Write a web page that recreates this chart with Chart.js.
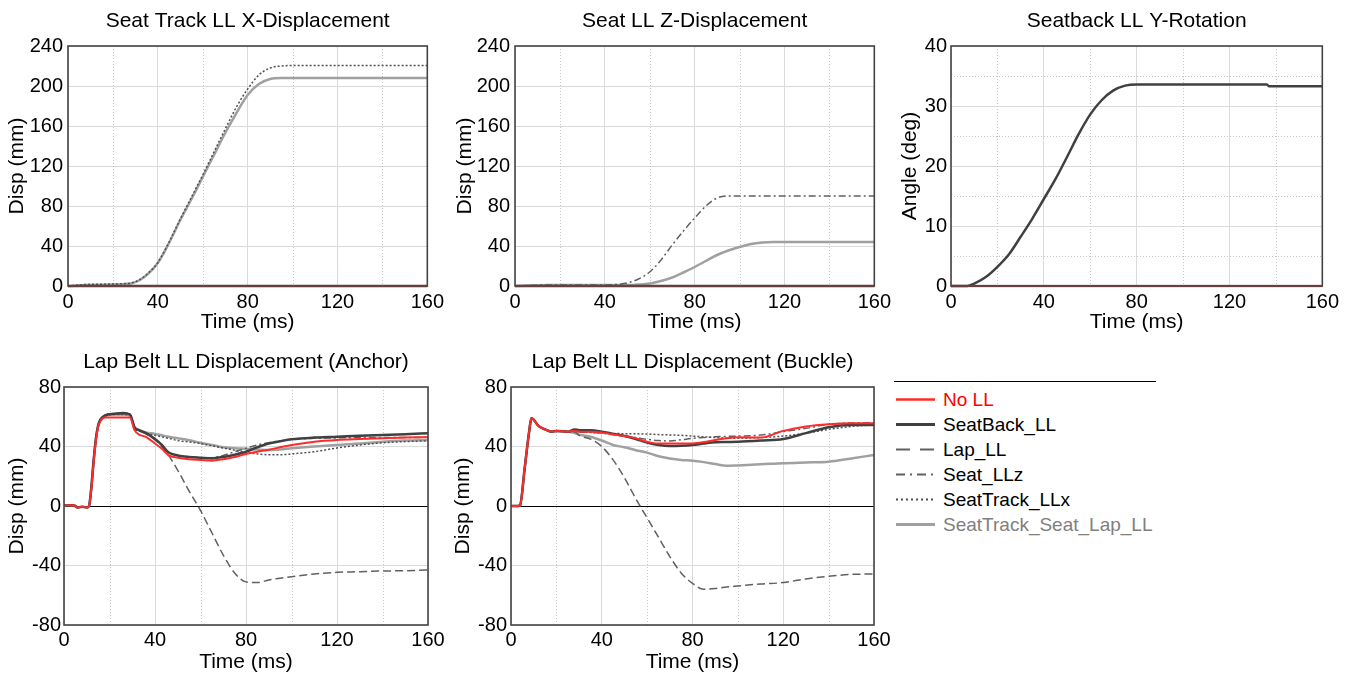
<!DOCTYPE html>
<html>
<head>
<meta charset="utf-8">
<script src="https://cdn.jsdelivr.net/npm/chart.js@4.4.0/dist/chart.umd.min.js"></script>
<style>
  body { margin: 0; background: #fff; width: 1359px; height: 675px; overflow: hidden; position: relative;
         font-family: "Liberation Sans", Arial, sans-serif; }
  canvas { position: absolute; }
  #legend { position: absolute; left: 894px; top: 381px; width: 262px; height: 160px; border-top: 1px solid #000; }
  .row { position: absolute; left: 0; height: 25px; width: 262px; }
  .row svg { position: absolute; left: 2px; top: 0; }
  .row span { position: absolute; left: 49px; top: 0; line-height: 25px; font-size: 19px; white-space: nowrap; }
</style>
</head>
<body>
<canvas id="trackX"></canvas>
<canvas id="seatZ"></canvas>
<canvas id="backRot"></canvas>
<canvas id="lapAnchor"></canvas>
<canvas id="lapBuckle"></canvas>
<div id="legend"></div>

<script>
// series names, same in every panel
const seriesNames = ["No LL", "SeatBack_LL", "Lap_LL", "Seat_LLz", "SeatTrack_LLx", "SeatTrack_Seat_Lap_LL"];

// curves that stay at zero in a panel
const zeroTimes = [0, 160];
const zeroValues = [0, 0];

// Seat Track LL X-Displacement (mm)
const trackTimes = [0, 8, 20, 28, 32, 36, 40, 45, 50, 55, 60, 65, 70, 75, 80, 85, 90, 95, 100, 160];
const trackLLx = [0, 1.5, 2, 3, 6.5, 13.5, 23.5, 44, 67, 89, 111, 134, 157, 179, 197, 211, 218, 220, 220.5, 220.5];
const trackAll = [0, 1, 1.5, 2.5, 6, 13, 23, 43, 66, 87, 109, 131, 153, 173, 191, 202, 207, 208, 208, 208];

// Seat LL Z-Displacement (mm)
const seatTimes = [0, 15, 40, 45, 50, 55, 60, 65, 70, 75, 80, 85, 90, 95, 100, 105, 110, 115, 160];
const seatLLz = [0, 1, 1, 1.5, 3, 7, 14, 26, 41, 55, 68, 80, 88, 90, 90, 90, 90, 90, 90];
const seatAll = [0, 1, 1, 1, 1, 1.5, 2.5, 5, 8.5, 13.5, 19, 25, 31, 35.5, 39, 42, 43.5, 44, 44];

// Seatback LL Y-Rotation (deg)
const backTimes = [0, 7, 10, 15, 20, 25, 30, 35, 40, 45, 50, 55, 60, 65, 70, 75, 80, 136, 137, 160];
const backLL = [0, 0, 0.4, 1.5, 3.2, 5.3, 8.2, 11.2, 14.5, 17.8, 21.5, 25.3, 28.6, 31, 32.6, 33.4, 33.6, 33.6, 33.3, 33.3];

// Lap Belt LL Displacement (Anchor) (mm)
const anchorTimes = [0, 3, 5, 6, 8, 10, 11, 12, 13, 14, 15, 16, 18, 22, 26, 29, 31, 33, 36, 40, 43, 46, 50, 55, 60,
  65, 70, 75, 80, 85, 90, 95, 100, 110, 120, 130, 140, 150, 160];
const anchorNoLL = [0.5, 0.5, 0, -1, -0.5, -1, 0, 11, 29, 44, 53, 57, 59.5, 59.5, 59.5, 59.5, 51, 48, 46.5, 42, 38.5,
  34, 32.5, 31.5, 31, 30.5, 31.5, 33, 35, 36.5, 37.8, 39.5, 41, 43.2, 44.4, 45, 45.5, 46, 46.3];
const anchorBack = [0.5, 0.5, 0, -1, -0.5, -1, 0, 12, 30, 45, 54, 58, 61, 62, 62.5, 61.5, 53, 51, 49, 45, 41,
  36, 34, 33, 32.5, 32, 33, 34.5, 36.5, 39.5, 42, 43.5, 44.8, 46, 46.6, 47.3, 47.8, 48.3, 48.9];
const anchorLap = [0.5, 0.5, 0, -1, -0.5, -1, 0, 12, 30, 45, 54, 58, 61, 62, 62, 61.5, 52, 50.5, 48.5, 44.5, 40,
  34, 24, 10, -3, -18, -33, -45, -51, -51.5, -49.7, -48.5, -47.5, -45.7, -44.6, -44.2, -43.7, -43.5, -43];
const anchorSeatZ = [0.5, 0.5, 0, -1, -0.5, -1, 0, 12, 30, 45, 54, 58, 61, 62, 62, 61.5, 53, 51, 49, 45, 41,
  36, 34, 33, 32.5, 32.5, 34, 36.5, 38.8, 41, 42.6, 43.8, 44.8, 45.5, 45.8, 46, 46, 46, 46.2];
const anchorTrackX = [0.5, 0.5, 0, -1, -0.5, -1, 0, 12, 30, 45, 54, 58, 60.5, 61.5, 61.5, 61, 52, 50.5, 49, 47.5,
  46.5, 45.5, 44, 43, 42, 40.5, 39, 37.5, 36, 35, 34.5, 34.5, 35, 36.5, 39, 41, 42.5, 43.3, 43.8];
const anchorAll = [0.5, 0.5, 0, -1, -0.5, -1, 0, 12, 30, 45, 54, 58, 60.5, 61.5, 61.5, 61, 52.5, 51, 49.5, 48.5,
  47.5, 46.5, 45.5, 44.2, 42.5, 41, 39.5, 38.8, 38.5, 38, 37.6, 38, 38.8, 40, 41, 42, 43.2, 44, 44.4];

// Lap Belt LL Displacement (Buckle) (mm)
const buckleTimes = [0, 3, 4, 6, 8, 9, 10, 12, 15, 18, 20, 25, 28, 30, 35, 40, 45, 50, 55, 60, 65, 70, 75, 80, 85,
  90, 95, 100, 110, 120, 130, 140, 150, 160];
const buckleNoLL = [0, 0, 0.5, 25, 50, 59, 58, 54, 51.5, 50, 50.5, 50, 50.5, 50, 50, 49.5, 48, 47, 45.5, 43.2, 42,
  42.1, 42, 42.1, 43, 44.4, 45.5, 46.2, 46, 50.5, 53.5, 55, 55.6, 55.6];
const buckleBack = [0, 0, 0.5, 25, 50, 59, 58, 54, 51.5, 50, 50.5, 50, 51.5, 51, 51, 50, 48.5, 47, 45, 42.6, 41,
  40.3, 40.5, 41, 42, 42.8, 43, 43.2, 44, 45, 49, 53, 54.5, 54.5];
const buckleLap = [0, 0, 0.5, 25, 50, 59, 58, 54, 51.5, 50, 50.5, 50, 50, 47.5, 45, 40, 31, 19, 5, -8, -21, -34,
  -45, -52, -56, -55.5, -54.5, -53.8, -52.4, -51.5, -49, -47.3, -46, -45.7];
const buckleSeatZ = [0, 0, 0.5, 25, 50, 59, 58, 54, 51.5, 50, 50.5, 50, 50, 49.5, 49.5, 49, 48, 47, 46, 44.8, 44,
  43.7, 44.5, 45.5, 46, 46.6, 46.8, 47, 47.7, 50, 52.2, 54.9, 55.8, 56];
const buckleTrackX = [0, 0, 0.5, 25, 50, 59, 58, 54, 51.5, 50, 50.5, 50, 50, 50, 49.5, 49, 48.8, 48.6, 48.5, 48.4,
  48, 47.8, 47.5, 47, 46.5, 46, 45.7, 45.5, 46, 47, 49, 51.5, 53.5, 54.5];
const buckleAll = [0, 0, 0.5, 25, 50, 59, 58, 54, 51.5, 50, 50.5, 50, 49, 48, 46.5, 44, 41, 39.5, 37.5, 35.9, 33.5,
  32, 31, 30.5, 29.5, 28.2, 27, 27.3, 28, 28.8, 29.3, 29.8, 32, 34.3];

// line look per series
const seriesStyles = [
  { color: "#ff2a2a", width: 2, dash: [] },
  { color: "#404040", width: 2.5, dash: [] },
  { color: "#606060", width: 1.5, dash: [8, 4] },
  { color: "#606060", width: 1.5, dash: [7, 3, 2, 3] },
  { color: "#505050", width: 1.5, dash: [2, 2] },
  { color: "#a0a0a0", width: 2.5, dash: [] },
];

Chart.defaults.font.family = '"Liberation Sans", Arial, sans-serif';
Chart.defaults.color = "#000";

// dotted minor grid under the curves, box around the plot area over them
const framePlugin = {
  id: "frame",
  beforeDatasetsDraw(chart, args, opts) {
    const { ctx, chartArea: a, scales } = chart;
    ctx.save();
    ctx.strokeStyle = "#c4c4c4";
    ctx.lineWidth = 1;
    ctx.setLineDash([1, 2]);
    (opts.xMinor || []).forEach((v) => {
      const x = Math.round(scales.x.getPixelForValue(v)) + 0.5;
      ctx.beginPath();
      ctx.moveTo(x, a.top);
      ctx.lineTo(x, a.bottom);
      ctx.stroke();
    });
    (opts.yMinor || []).forEach((v) => {
      const y = Math.round(scales.y.getPixelForValue(v)) + 0.5;
      ctx.beginPath();
      ctx.moveTo(a.left, y);
      ctx.lineTo(a.right, y);
      ctx.stroke();
    });
    ctx.restore();
  },
  afterDatasetsDraw(chart) {
    const { ctx, chartArea: a } = chart;
    ctx.save();
    ctx.strokeStyle = "#444";
    ctx.lineWidth = 1.6;
    ctx.strokeRect(a.left, a.top, a.right - a.left, a.bottom - a.top);
    ctx.restore();
  },
};

function makePanel(id, box, title, yTitle, yRange, curves, yMinor, lay) {
  const canvas = document.getElementById(id);
  canvas.width = box.w;
  canvas.height = box.h;
  canvas.style.left = box.x + "px";
  canvas.style.top = box.y + "px";

  const datasets = curves.map((c, i) => ({
    label: seriesNames[i],
    data: c.times.map((t, k) => ({ x: t, y: c.values[k] })),
    borderColor: seriesStyles[i].color,
    borderWidth: seriesStyles[i].width,
    borderDash: seriesStyles[i].dash,
    pointRadius: 0,
    cubicInterpolationMode: "monotone",
    fill: false,
    clip: false,
  }));

  return new Chart(canvas, {
    type: "line",
    data: { datasets: datasets },
    options: {
      responsive: false,
      animation: false,
      devicePixelRatio: 1,
      layout: { padding: { left: 0, right: 20, top: 0, bottom: 0 } },
      plugins: {
        legend: { display: false },
        tooltip: { enabled: false },
        title: {
          display: true,
          text: title,
          fullSize: false,
          color: "#000",
          font: { size: 21, weight: "normal", lineHeight: 1 },
          padding: { top: lay.titleTop, bottom: lay.titleBottom },
        },
        frame: { xMinor: [20, 60, 100, 140], yMinor: yMinor },
      },
      scales: {
        x: {
          type: "linear",
          min: 0,
          max: 160,
          ticks: { stepSize: 40, maxRotation: 0, padding: lay.xTickPad, font: { size: 20 } },
          grid: { color: "#dadada", drawTicks: false },
          border: { display: false },
          title: {
            display: true,
            text: "Time (ms)",
            font: { size: 21, lineHeight: 1 },
            padding: { top: 0, bottom: lay.xTitlePad },
          },
          afterFit: (s) => { s.height = lay.xH; },
        },
        y: {
          type: "linear",
          min: yRange[0],
          max: yRange[1],
          ticks: { stepSize: yRange[2], padding: lay.yTickPad, font: { size: 20 } },
          grid: {
            color: (c) => (c.tick && c.tick.value === 0 ? "#000" : "#dadada"),
            drawTicks: false,
          },
          border: { display: false },
          title: {
            display: true,
            text: yTitle,
            font: { size: 21, lineHeight: 1 },
            padding: { top: lay.yTitlePad, bottom: 0 },
          },
          afterFit: (s) => { s.width = lay.yW; },
        },
      },
    },
    plugins: [framePlugin],
  });
}

const zero = { times: zeroTimes, values: zeroValues };

makePanel("trackX", { x: 0, y: 0, w: 448, h: 340 }, "Seat Track LL X-Displacement", "Disp (mm)", [0, 240, 40],
  [zero, zero, zero, zero, { times: trackTimes, values: trackLLx }, { times: trackTimes, values: trackAll }], [],
  { titleTop: 11, titleBottom: 14, xH: 54, xTickPad: 4, xTitlePad: 7.5, yW: 68, yTickPad: 5, yTitlePad: 6.5 });

makePanel("seatZ", { x: 447, y: 0, w: 448, h: 340 }, "Seat LL Z-Displacement", "Disp (mm)", [0, 240, 40],
  [zero, zero, zero, { times: seatTimes, values: seatLLz }, zero, { times: seatTimes, values: seatAll }], [],
  { titleTop: 11, titleBottom: 14, xH: 54, xTickPad: 4, xTitlePad: 7.5, yW: 68, yTickPad: 5, yTitlePad: 7.5 });

makePanel("backRot", { x: 892, y: 0, w: 451, h: 340 }, "Seatback LL Y-Rotation", "Angle (deg)", [0, 40, 10],
  [zero, { times: backTimes, values: backLL }, zero, zero, zero, zero], [5, 15, 25, 35],
  { titleTop: 11, titleBottom: 14, xH: 54, xTickPad: 4, xTitlePad: 7.5, yW: 59, yTickPad: 4, yTitlePad: 7.5 });

makePanel("lapAnchor", { x: 0, y: 335, w: 448, h: 340 }, "Lap Belt LL Displacement (Anchor)", "Disp (mm)", [-80, 80, 40],
  [
    { times: anchorTimes, values: anchorNoLL },
    { times: anchorTimes, values: anchorBack },
    { times: anchorTimes, values: anchorLap },
    { times: anchorTimes, values: anchorSeatZ },
    { times: anchorTimes, values: anchorTrackX },
    { times: anchorTimes, values: anchorAll },
  ], [],
  { titleTop: 16.5, titleBottom: 14.5, xH: 50, xTickPad: 3, xTitlePad: 2.5, yW: 64, yTickPad: 3, yTitlePad: 6.5 });

makePanel("lapBuckle", { x: 447, y: 335, w: 447, h: 340 }, "Lap Belt LL Displacement (Buckle)", "Disp (mm)", [-80, 80, 40],
  [
    { times: buckleTimes, values: buckleNoLL },
    { times: buckleTimes, values: buckleBack },
    { times: buckleTimes, values: buckleLap },
    { times: buckleTimes, values: buckleSeatZ },
    { times: buckleTimes, values: buckleTrackX },
    { times: buckleTimes, values: buckleAll },
  ], [],
  { titleTop: 16.5, titleBottom: 14.5, xH: 50, xTickPad: 3, xTitlePad: 2.5, yW: 64, yTickPad: 4, yTitlePad: 5.5 });

// shared legend on the right
const legendTextColors = ["#ff0000", "#000", "#000", "#000", "#000", "#808080"];
const legendDash = ["", "", "14 10", "9 5 2 5", "2 3", ""];
const legend = document.getElementById("legend");
seriesNames.forEach((name, i) => {
  const row = document.createElement("div");
  row.className = "row";
  row.style.top = (4.5 + 25 * i) + "px";
  const st = seriesStyles[i];
  row.innerHTML =
    '<svg width="40" height="25"><line x1="0" y1="12.5" x2="39" y2="12.5" stroke="' + st.color +
    '" stroke-width="' + (st.width + 0.5) + '" stroke-dasharray="' + legendDash[i] + '"/></svg>' +
    '<span style="color:' + legendTextColors[i] + '">' + name + "</span>";
  legend.appendChild(row);
});
</script>
</body>
</html>
